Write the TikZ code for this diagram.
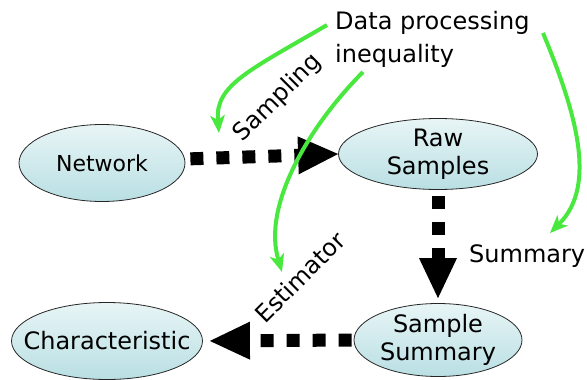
\documentclass[tikz,border=0pt]{standalone}
\usepackage{fontspec}
\setmainfont{DejaVu Sans}
\usetikzlibrary{shapes.geometric,arrows.meta}
\definecolor{grn}{RGB}{72,232,62}
\definecolor{cyanfill}{RGB}{185,223,227}
\definecolor{cyanlight}{RGB}{232,245,246}
\tikzset{
  ell/.style={ellipse, draw=black!85, line width=0.8pt,
    top color=cyanlight, middle color=cyanfill, bottom color=cyanfill,
    inner xsep=-16pt, inner ysep=-4pt, align=center, font=\fontsize{24}{28}\selectfont},
  bigarrow/.style={line width=13pt, dash pattern=on 13pt off 13pt,
    -{Triangle[length=40pt,width=38pt,line width=0pt]}},
  greenarrow/.style={draw=grn, line width=4pt,
    -{Stealth[length=18pt,width=15pt,inset=5pt,line width=0pt]}},
  lbl/.style={font=\fontsize{24}{33}\selectfont, inner sep=0pt}
}
\begin{document}
\begin{tikzpicture}[x=1pt,y=-1pt]
\useasboundingbox (0,0) rectangle (587,380);
% ellipses
\node[ell, minimum width=166pt, minimum height=77pt, font=\fontsize{22}{26}\selectfont] (net) at (102,163) {Network};
\node[ell, minimum width=199pt, minimum height=71pt] (raw) at (438,154) {Raw\\Samples};
\node[ell, minimum width=168pt, minimum height=73pt] (summ) at (438,340) {Sample\\Summary};
\node[ell, minimum width=191pt, minimum height=77pt] (char) at (107,341) {Characteristic};
% dotted arrows
\draw[bigarrow, shorten <=5pt] ([yshift=4pt]net.east) -- (raw.west);
\draw[bigarrow, shorten <=6pt, shorten >=5pt] (raw.south) -- (summ.north);
\draw[bigarrow, shorten <=2pt, shorten >=7pt] (summ.west) -- (char.east);
% labels
\node[lbl, anchor=north west, align=left] (dpi) at (335,11) {Data processing\\inequality};
\node[lbl, rotate=45] (samp) at (278,98) {Sampling};
\node[lbl, rotate=45] (est) at (300,277) {Estimator};
\node[lbl, anchor=base west] (sumlbl) at (469,262) {Summary};
% green arrows
\coordinate (g1s) at (327,25);
\coordinate (g1e) at (219,133);
\coordinate (g2s) at (363,72);
\coordinate (g2e) at (282,272);
\coordinate (g3s) at (543,33);
\coordinate (g3e) at (550,233);
\draw[greenarrow] (g1s) .. controls (250,70) and (215,85) .. (g1e);
\draw[greenarrow] (g2s) .. controls (310,125) and (262,205) .. (g2e);
\draw[greenarrow] (g3s) .. controls (575,110) and (598,185) .. (g3e);
\end{tikzpicture}
\end{document}
